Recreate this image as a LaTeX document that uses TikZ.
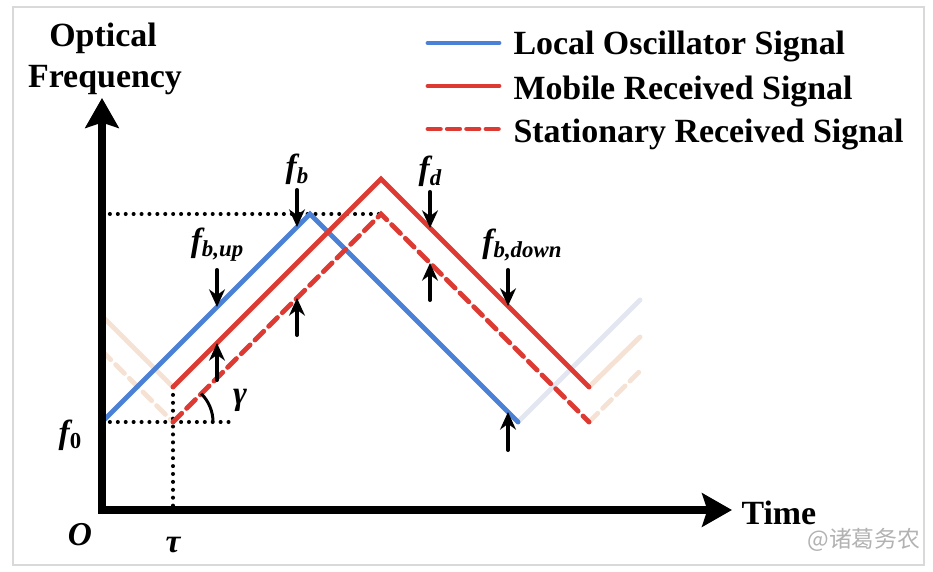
\documentclass[tikz,border=0pt]{standalone}
\usepackage{fontspec}
\setmainfont{Liberation Serif}
\newfontfamily\cjkfont{Noto Sans CJK SC}
\usepackage{tkz-euclide}
\usetikzlibrary{arrows.meta}

\definecolor{loblue}{RGB}{74,128,214}
\definecolor{rxred}{RGB}{220,58,50}
\definecolor{fadeblue}{RGB}{226,230,240}
\definecolor{fadered}{RGB}{246,226,212}

\newcommand\sbs[1]{\raisebox{-0.35ex}{\fontsize{13}{13}\selectfont #1}}

\tikzset{
  axis/.style={line width=4pt,line cap=rect,-{Stealth[length=17pt,width=19pt,inset=3pt]}},
  losig/.style={loblue,line width=2.8pt},
  mobsig/.style={rxred,line width=2.8pt},
  stasig/.style={rxred,line width=2.8pt,dash pattern=on 7pt off 4pt},
  fadelo/.style={fadeblue,line width=2.8pt},
  fademob/.style={fadered,line width=2.8pt},
  fadesta/.style={fadered,line width=2.8pt,dash pattern=on 7pt off 4pt},
  guide/.style={line width=2.3pt,line cap=round,dash pattern=on 0pt off 4.5pt},
  beat/.style={line width=2.3pt,-{Stealth[length=10pt,width=9pt]}},
  lbl/.style={font=\fontsize{19.3}{23}\selectfont\bfseries,inner sep=0pt},
  sym/.style={font=\fontsize{19}{22}\selectfont\bfseries\itshape,inner sep=0pt},
}

\begin{document}
\begin{tikzpicture}
    \useasboundingbox (-2.04,-1.24) rectangle (16.62,10.2);
    \draw[black!15,line width=0.8pt] (-1.78,-1.1) rectangle (16.44,10.06);
    % axes and sweep corners
    \tkzDefPoints{0/0/O, 0/8.24/Ya, 12.6/0/Xa, 0/1.76/F, 1.42/0/Tb}
    \tkzDefPoints{4.16/5.92/P, 8.32/1.76/E, 10.76/4.2/Ef}
    \tkzDefPoints{1.42/1.76/T, 5.58/5.92/Q, 9.74/1.76/D, 10.74/2.76/Df, 0/3.18/Dl}
    \tkzDefPoints{1.42/2.46/R, 5.58/6.62/M, 9.74/2.46/N, 10.76/3.46/Nf, 0/3.88/Rl}
    \tkzDefPoints{0/5.92/H, 2.6/1.76/G}
    % faint neighbouring periods
    \tkzDrawSegments[fadelo](E,Ef)
    \tkzDrawSegments[fademob](Rl,R N,Nf)
    \tkzDrawSegments[fadesta](Dl,T D,Df)
    % guides
    \tkzDrawSegments[guide](H,Q F,G R,Tb)
    % sweeps
    \tkzDrawPolySeg[losig](F,P,E)
    \tkzDrawPolySeg[stasig](T,Q,D)
    \tkzDrawPolySeg[mobsig](R,M,N)
    \tkzMarkAngle[size=0.8,line width=1.7pt](G,T,Q)
    \tkzDrawSegments[axis](O,Ya O,Xa)
    % beat arrows
    \tkzDefPoints{3.9/6.4/a1, 3.9/5.66/b1, 2.3/4.8/a2, 2.3/4.06/b2,
                  2.3/2.6/a3, 2.3/3.34/b3, 3.9/3.5/a4, 3.9/4.24/b4,
                  6.56/6.36/a5, 6.56/5.64/b5, 6.56/4.2/a6, 6.56/4.94/b6,
                  8.12/4.8/a7, 8.12/4.08/b7, 8.12/1.2/a8, 8.12/1.96/b8}
    \tkzDrawSegments[beat](a1,b1 a2,b2 a3,b3 a4,b4 a5,b5 a6,b6 a7,b7 a8,b8)
    \tkzLabelPoint[above=2pt,sym](a1){f\sbs{b}}
    \tkzLabelPoint[above=4pt,sym](a2){f\sbs{b,up}}
    \tkzLabelPoint[above=2pt,sym](a5){f\sbs{d}}
    \tkzLabelPoint[above=4pt,xshift=0.28cm,sym](a7){f\sbs{b,down}}
    % axis labels
    \tkzDefPoints{-0.64/1.5/Lf, -0.44/-0.5/Lo, 1.42/-0.7/Lt, 2.76/2.2/Lg,
                  0.02/9.26/Lq1, 0.06/8.44/Lq2, 12.76/-0.3/Lx}
    \tkzLabelPoint[anchor=center,sym](Lf){f\sbs{\upshape 0}}
    \tkzLabelPoint[anchor=center,sym](Lo){O}
    \tkzLabelPoint[anchor=center,sym](Lt){τ}
    \tkzLabelPoint[anchor=center,sym](Lg){γ}
    \tkzLabelPoint[anchor=base,lbl](Lq1){Optical}
    \tkzLabelPoint[anchor=base,lbl](Lq2){Frequency}
    \tkzLabelPoint[anchor=base west,lbl](Lx){Time}
    % legend
    \tkzDefPoints{6.52/9.34/k1, 7.94/9.34/m1, 6.52/8.48/k2, 7.94/8.48/m2,
                  6.52/7.62/k3, 7.94/7.62/m3, 8.2/9.1/t1, 8.2/8.2/t2, 8.2/7.34/t3}
    \tkzDrawSegments[losig,line cap=round](k1,m1)
    \tkzDrawSegments[mobsig,line cap=round](k2,m2)
    \tkzDrawSegments[stasig](k3,m3)
    \tkzLabelPoint[anchor=base west,lbl](t1){Local Oscillator Signal}
    \tkzLabelPoint[anchor=base west,lbl](t2){Mobile Received Signal}
    \tkzLabelPoint[anchor=base west,lbl](t3){Stationary Received Signal}
    \tkzDefPoints{15.24/-0.6/W}
    \tkzLabelPoint[anchor=center,text=black!30,font=\fontsize{13}{13}\selectfont\cjkfont](W){@诸葛务农}
\end{tikzpicture}
\end{document}
